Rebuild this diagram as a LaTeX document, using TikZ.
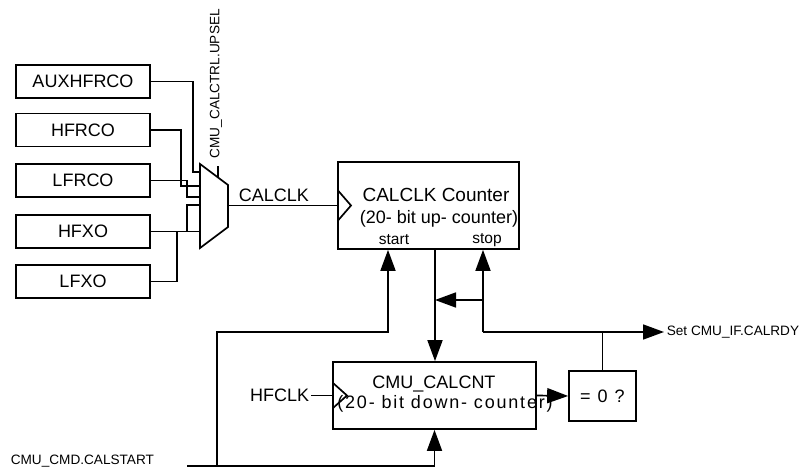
\documentclass[tikz,border=0pt]{standalone}
\usepackage{fontspec}
\setmainfont{Liberation Sans}
\usetikzlibrary{arrows.meta}
\begin{document}
\begin{tikzpicture}[x=1pt,y=-1pt, line width=1.7pt,
  src/.style={draw, minimum width=134pt, minimum height=33pt, inner sep=0pt, font=\fontsize{18}{20}\selectfont},
  blk/.style={draw, inner sep=0pt},
  big/.style={font=\fontsize{18}{20}\selectfont},
  ctr/.style={font=\fontsize{19}{21}\selectfont},
  lbl/.style={font=\fontsize{15.5}{17}\selectfont},
  small/.style={font=\fontsize{13.6}{15}\selectfont},
  arr/.style={-{Triangle[length=21pt,width=15pt]}}]
\useasboundingbox (0,0) rectangle (805,470);

% sources
\node[src] (aux) at (83,81.5) {AUXHFRCO};
\node[src] (hfrco) at (83,130) {HFRCO};
\node[src] (lfrco) at (83,180.5) {LFRCO};
\node[src] (hfxo) at (83,231.5) {HFXO};
\node[src] (lfxo) at (83,281.5) {LFXO};

% mux
\coordinate (m1) at (200,164);
\coordinate (m2) at (228,185);
\coordinate (m3) at (228,227);
\coordinate (m4) at (200,248);
\draw (m1) -- (m2) -- (m3) -- (m4) -- cycle;
\coordinate (in1) at (200,172);
\coordinate (in2) at (200,186);
\coordinate (in3) at (200,197);
\coordinate (in4) at (200,205);
\coordinate (in5) at (200,231.5);
\draw (aux.east) -| (193,172) -- (in1);
\draw (hfrco.east) -| (181,186) -- (in2);
\draw (lfrco.east) -| (187,197) -- (in3);
\draw (hfxo.east) -- (in5);
\draw (lfxo.east) -| (177,231.5) -- (187,231.5) |- (in4);

% select
\coordinate (selb) at (218,177.5);
\coordinate (selt) at (218,166);
\draw (selb) -- (selt);
\node[small, rotate=90, anchor=west, inner sep=0pt] (seltxt) at (216,159) {CMU\_CALCTRL.UPSEL};

% CALCLK counter
\node[blk, minimum width=181pt, minimum height=87pt] (cc) at (428.5,205.5) {};
\draw (338,190.5) -- (351,205.5) -- (338,220.5);
\node[ctr] (cct1) at (436,195) {CALCLK Counter};
\node[big] (cct2) at (439,219) {(20- bit up- counter)};
\node[lbl] (st) at (394,240) {start};
\node[lbl] (sp) at (487,240) {stop};

\coordinate (mo) at (228,205.5);
\draw (mo) -- (cc.west);
\node[big, anchor=south west, inner sep=0pt] (calclk) at (238,203) {CALCLK};

% CMU_CALCNT
\node[blk, minimum width=203pt, minimum height=67pt] (dc) at (434.5,395.5) {};
\draw (333,383) -- (347,395.5) -- (333,408);
\node[big] (dct1) at (434,384.5) {CMU\_CALCNT};
\node[big] (dct2) at (445,404) {\addfontfeature{LetterSpace=10}(20- bit down- counter)};
\node[big, anchor=east, inner sep=1pt] (hf) at (311,395.5) {HFCLK};
\draw (hf.east) -- (dc.west);

% =0 ?
\node[blk, minimum width=67pt, minimum height=50pt, big] (eq) at (602.5,396) {=\hspace{7pt}0\hspace{7pt}?};
\draw[arr] (dc.east) -- (eq.west);

% connections
\coordinate (dn) at (435,249);
\draw[arr] (dn) -- (dn |- dc.north);
\coordinate (sj) at (483,332);
\coordinate (la) at (483,300);
\draw[arr] (sj) -- (sj |- cc.south);
\draw[arr] (la) -- (la -| dn);
\node[small, anchor=west, inner sep=2pt] (set) at (664,332) {Set CMU\_IF.CALRDY};
\draw[arr] (sj) -- (set.west);
\draw (eq.north) -- (eq.north |- sj);

% start
\node[small, anchor=west, inner sep=0pt] (calst) at (10,461) {CMU\_CMD.CALSTART};
\coordinate (cs) at (187,466);
\coordinate (cj) at (217,466);
\coordinate (su) at (388,332);
\draw[arr] (cs) -| (dc.south);
\draw[arr] (cj) |- (su) -- (su |- cc.south);
\end{tikzpicture}
\end{document}
